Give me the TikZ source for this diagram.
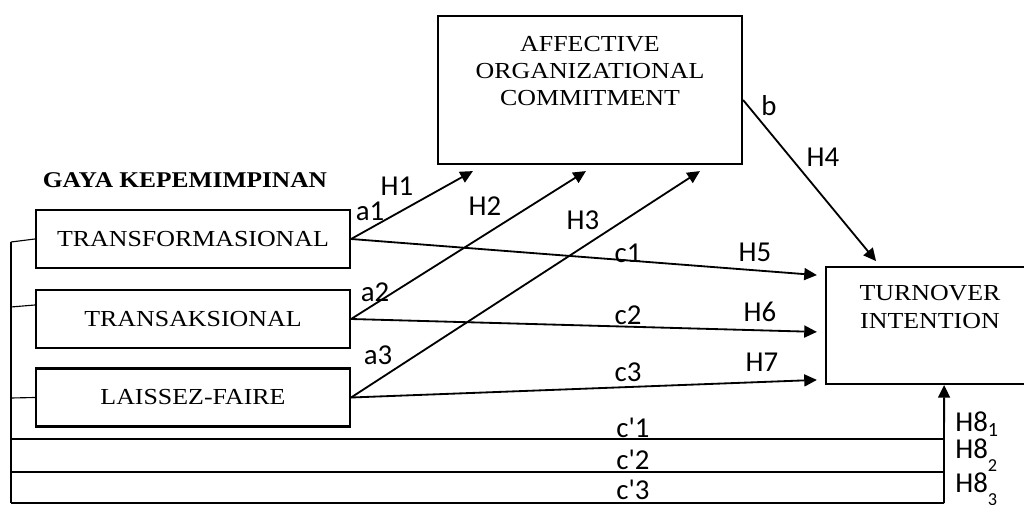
\documentclass[tikz,border=0pt]{standalone}
\usepackage{fontspec}
\setmainfont{Liberation Serif}[FakeStretch=1.13]
\newfontfamily\lblfont{Carlito}
\usetikzlibrary{arrows.meta}

\tikzset{
  box/.style={draw, line width=1.5pt, rectangle, inner sep=0pt},
  boxtext/.style={align=center, font=\fontsize{16.3}{19.5}\selectfont},
  path/.style={line width=1.3pt, -{Triangle[length=9pt,width=8.5pt]}},
  thin/.style={line width=0.8pt},
  lbl/.style={font=\lblfont\fontsize{20.5}{22}\selectfont, inner sep=0pt}
}

\begin{document}
\begin{tikzpicture}[x=0.025cm,y=-0.025cm]
	\useasboundingbox (0,0) rectangle (1024,505);
	\clip (0,0) rectangle (1024,505);
	% boxes
	\node[box, minimum width=7.6cm, minimum height=3.7cm] (aoc) at (590,90) {};
	\node[boxtext] (aoctxt) at (590,71) {AFFECTIVE\\ORGANIZATIONAL\\COMMITMENT};
	\node[box, minimum width=5.225cm, minimum height=2.925cm] (tov) at (930.5,325.5) {};
	\node[boxtext] (tovtxt) at (930,307) {TURNOVER\\INTENTION};
	\node[font=\fontsize{16}{18}\selectfont\bfseries] (gaya) at (185,180) {GAYA KEPEMIMPINAN};
	\node[box, boxtext, minimum width=7.85cm, minimum height=1.45cm] (tf) at (193,239) {TRANSFORMASIONAL};
	\node[box, boxtext, minimum width=7.85cm, minimum height=1.45cm] (ts) at (193,319) {TRANSAKSIONAL};
	\node[box, boxtext, minimum width=7.85cm, minimum height=1.45cm] (lf) at (193,397.5) {LAISSEZ-FAIRE};
	% bracket and direct paths
	\coordinate (brtop) at (11,242);
	\coordinate (brbot) at (11,503);
	\coordinate (h8bot) at (944,503);
	\draw[thin] (brtop) -- (brbot);
	\draw[thin] (brtop) -- (tf.west);
	\draw[thin] (11,307) -- ([yshift=0.35cm]ts.west);
	\draw[thin] (11,398) -- (lf.west);
	\draw[thin] (11,439) -- (944,439);
	\draw[thin] (11,472) -- (944,472);
	\draw[thin] (brbot) -- (h8bot);
	\draw[path] (h8bot) -- ([xshift=0.34cm]tov.south);
	% a paths
	\draw[path] (tf.east) -- ([xshift=0.9cm,yshift=-0.15cm]aoc.south west);
	\draw[path] (ts.east) -- ([xshift=3.725cm,yshift=-0.15cm]aoc.south west);
	\draw[path] (lf.east) -- ([xshift=6.575cm,yshift=-0.15cm]aoc.south west);
	% c paths
	\draw[path] (tf.east) -- ([xshift=-0.2cm,yshift=1.26cm]tov.west);
	\draw[path] (ts.east) -- ([xshift=-0.2cm,yshift=-0.16cm]tov.west);
	\draw[path] (lf.east) -- ([xshift=-0.2cm,yshift=-1.36cm]tov.west);
	% b path
	\draw[path] ([yshift=-0.25cm]aoc.east) -- ([xshift=-1.36cm,yshift=0.12cm]tov.north);
	% labels
	\node[lbl] (la1) at (370,211) {a1};
	\node[lbl] (lh1) at (397,186) {H1};
	\node[lbl] (la2) at (375,292) {a2};
	\node[lbl] (lh2) at (485,206) {H2};
	\node[lbl] (la3) at (378,355) {a3};
	\node[lbl] (lh3) at (583,220) {H3};
	\node[lbl] (lc1) at (628,253) {c1};
	\node[lbl] (lh5) at (755,252) {H5};
	\node[lbl] (lc2) at (628,315) {c2};
	\node[lbl] (lh6) at (760,312) {H6};
	\node[lbl] (lc3) at (628,372) {c3};
	\node[lbl] (lh7) at (762,362) {H7};
	\node[lbl] (lb) at (769,106) {b};
	\node[lbl] (lh4) at (823,157) {H4};
	\node[lbl] (lcp1) at (633,428) {c'1};
	\node[lbl] (lcp2) at (633,460) {c'2};
	\node[lbl] (lcp3) at (633,490) {c'3};
	\node[lbl, anchor=west] (lh81) at (955,424) {H8\textsubscript{1}};
	\node[lbl, anchor=west] (lh82) at (955,455) {H8\raisebox{-0.45em}{\fontsize{13}{14}\selectfont 2}};
	\node[lbl, anchor=west] (lh83) at (955,489) {H8\raisebox{-0.45em}{\fontsize{13}{14}\selectfont 3}};
\end{tikzpicture}
\end{document}
